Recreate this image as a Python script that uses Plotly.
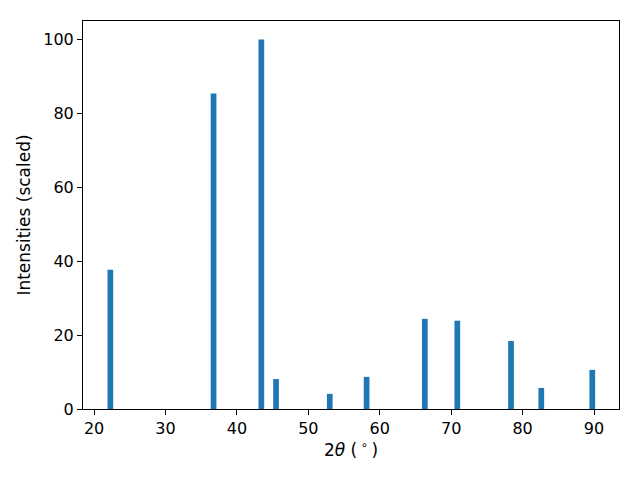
import plotly.graph_objects as go

two_theta = [22.28, 36.73, 43.42, 45.48, 53.0, 58.16, 66.31, 70.86, 78.38, 82.62, 89.76]
intensity = [37.7, 85.4, 100.0, 8.1, 4.1, 8.7, 24.4, 23.9, 18.4, 5.7, 10.6]

fig = go.Figure(go.Bar(x=two_theta, y=intensity, width=0.8,
                       marker=dict(color="#1f77b4", line=dict(width=0))))

axis_common = dict(showline=True, linecolor="black", linewidth=1, mirror=True,
                   ticks="outside", ticklen=5, tickcolor="black", showgrid=False,
                   zeroline=False, automargin=False,
                   tickfont=dict(family="DejaVu Sans", size=16, color="black"))

fig.update_layout(
    width=640, height=480,
    margin=dict(l=75, r=29, t=13, b=79),
    plot_bgcolor="white", paper_bgcolor="white",
    font=dict(family="DejaVu Sans", size=16, color="black"),
    showlegend=False,
    xaxis=dict(range=[18.45, 93.5], tickvals=[20, 30, 40, 50, 60, 70, 80, 90],
               title=dict(text="2<i>θ</i> (\u2009<sup>∘</sup>\u2009)", standoff=6,
                          font=dict(family="DejaVu Sans", size=17, color="black")), **axis_common),
    yaxis=dict(range=[0, 105], tickvals=[0, 20, 40, 60, 80, 100],
               title=dict(text="Intensities (scaled)", standoff=8,
                          font=dict(family="DejaVu Sans", size=17, color="black")), **axis_common),
)

fig.write_html("out.html")
